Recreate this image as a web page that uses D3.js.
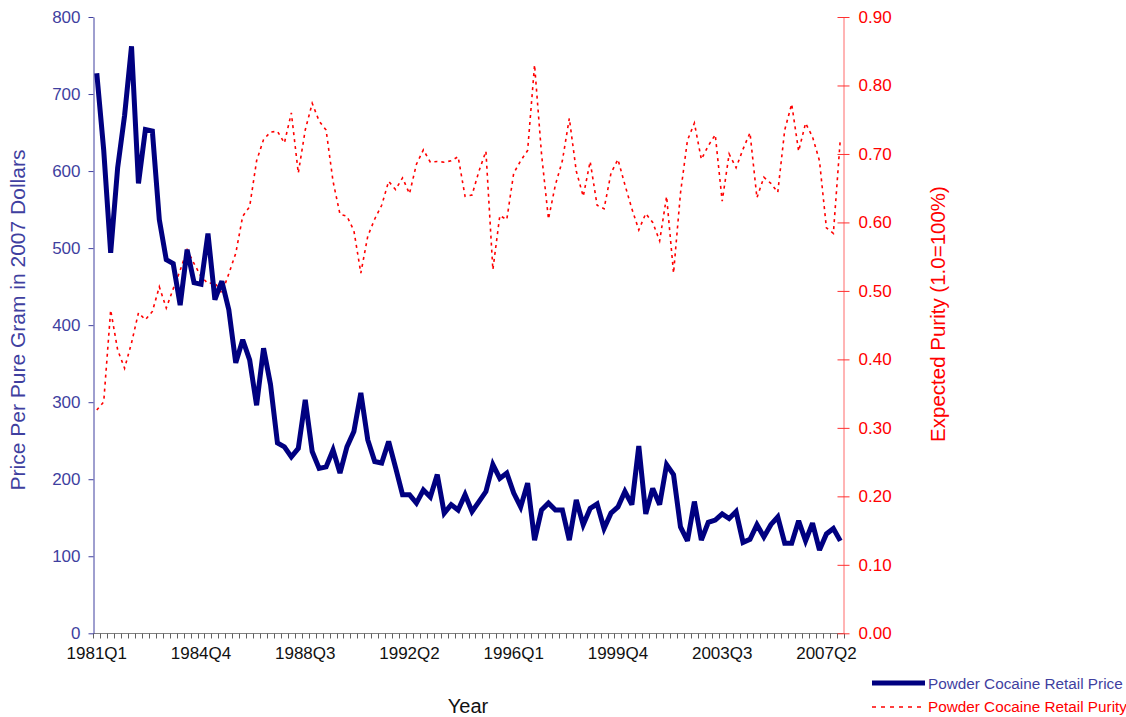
<!DOCTYPE html>
<html>
<head>
<meta charset="utf-8">
<script src="https://cdn.jsdelivr.net/npm/d3@7"></script>
<style>
body{margin:0;background:#fff;}
text{font-family:"Liberation Sans",Arial,sans-serif;}
</style>
</head>
<body>
<div id="vis"></div>
<script>
// quarters 1981Q1 .. 2007Q4
var years = d3.range(1981, 2008);
var quarters = [];
years.forEach(function(y){ for(var q=1;q<=4;q++){ quarters.push(y+"Q"+q); } });

// price per pure gram, 2007 dollars
var price = [727,627,494,604,672,762,584,654,652,537,
  485,480,426,498,455,453,519,433,457,420,
  351,381,355,296,370,323,247,242,229,240,
  303,236,214,216,238,208,242,262,312,251,
  223,221,249,215,180,180,169,186,177,206,
  156,167,160,180,158,171,184,219,201,208,
  182,164,195,121,160,169,160,160,121,173,
  141,162,168,136,156,164,184,167,243,155,
  188,167,219,206,138,120,171,121,144,147,
  155,149,158,118,122,141,125,141,151,117,
  117,146,120,143,108,129,136,120];

// expected purity (1.0 = 100%)
var purity = [0.326,0.338,0.472,0.414,0.387,0.424,0.468,0.458,0.470,0.506,
  0.475,0.503,0.530,0.560,0.540,0.521,0.511,0.512,0.497,0.525,
  0.555,0.609,0.623,0.690,0.721,0.732,0.733,0.716,0.760,0.672,
  0.735,0.774,0.748,0.735,0.660,0.612,0.609,0.588,0.526,0.580,
  0.605,0.625,0.660,0.648,0.665,0.642,0.685,0.706,0.688,0.689,
  0.688,0.690,0.696,0.638,0.640,0.675,0.704,0.531,0.610,0.604,
  0.672,0.690,0.705,0.830,0.700,0.605,0.655,0.690,0.752,0.675,
  0.638,0.689,0.625,0.620,0.672,0.692,0.655,0.620,0.589,0.613,
  0.600,0.573,0.638,0.526,0.643,0.720,0.745,0.692,0.712,0.728,
  0.631,0.700,0.680,0.707,0.731,0.636,0.666,0.657,0.644,0.735,
  0.773,0.704,0.745,0.725,0.690,0.592,0.584,0.722];

var priceTicks = d3.range(0, 801, 100);
var purityTicks = d3.range(0, 10).map(function(d){ return d/10; });
var seriesNames = ["Powder Cocaine Retail Price","Powder Cocaine Retail Purity"];

var blueText = "#3f3f9f";
var svg = d3.select("#vis").append("svg").attr("width",1126).attr("height",717);

// scales
var x = d3.scaleBand().domain(quarters).range([93.3, 843.8]).padding(0);
var cx = function(i){ return x(quarters[i]) + x.bandwidth()/2; };
var yPrice = d3.scaleLinear().domain([0,800]).range([633.3,17]);
var yPurity = d3.scaleLinear().domain([0,0.9]).range([633.3,17]);

// x axis: boundary ticks
var xg = svg.append("g");
xg.append("line").attr("x1",93.3).attr("x2",843.8).attr("y1",633.5).attr("y2",633.5)
  .attr("stroke","#808080").attr("stroke-width",1.2);
xg.selectAll("line.tk").data(quarters.concat(["end"])).enter().append("line")
  .attr("class","tk")
  .attr("x1",function(d,i){ return Math.round(93.3 + i*x.bandwidth())+0.5; })
  .attr("x2",function(d,i){ return Math.round(93.3 + i*x.bandwidth())+0.5; })
  .attr("y1",633.5).attr("y2",638.5).attr("stroke","#606060").attr("stroke-width",1);
var xAxis = d3.axisBottom(x).tickSize(0).tickPadding(0)
  .tickValues(quarters.filter(function(d,i){ return i%15==0; }));
var xa = svg.append("g").attr("transform","translate(0,633.3)").call(xAxis);
xa.select(".domain").remove();
xa.selectAll("text").attr("y",26).attr("dy",null).attr("font-size",17).attr("fill","#111")
  .style("font-family","'Liberation Sans',Arial,sans-serif");

// left axis
var la = svg.append("g").attr("transform","translate(93.5,0)")
  .call(d3.axisLeft(yPrice).tickValues(priceTicks).tickSize(5).tickSizeOuter(0).tickPadding(8));
la.select(".domain").attr("stroke",blueText);
la.selectAll(".tick line").attr("stroke",blueText);
la.selectAll("text").attr("font-size",17).attr("fill",blueText)
  .style("font-family","'Liberation Sans',Arial,sans-serif");

// right axis, ticks cross the line
var ra = svg.append("g").attr("transform","translate(843.5,0)")
  .call(d3.axisRight(yPurity).tickValues(purityTicks).tickSize(6).tickSizeOuter(0).tickPadding(9).tickFormat(d3.format(".2f")));
ra.select(".domain").attr("stroke","#ff6a6a");
ra.selectAll(".tick line").attr("x1",-6).attr("stroke","#ff3030");
ra.selectAll("text").attr("font-size",17).attr("fill","#ff0000")
  .style("font-family","'Liberation Sans',Arial,sans-serif");

// titles
svg.append("text").attr("transform","translate(25,320) rotate(-90)").attr("text-anchor","middle")
  .attr("font-size",21).attr("fill",blueText).text("Price Per Pure Gram in 2007 Dollars");
svg.append("text").attr("transform","translate(945,314) rotate(-90)").attr("text-anchor","middle")
  .attr("font-size",20.5).attr("fill","#ff0000").text("Expected Purity (1.0=100%)");
svg.append("text").attr("x",468).attr("y",713).attr("text-anchor","middle")
  .attr("font-size",20).attr("fill","#111").text("Year");

// lines
var purityLine = d3.line().x(function(d,i){ return cx(i); }).y(function(d){ return yPurity(d); });
var priceLine = d3.line().x(function(d,i){ return cx(i); }).y(function(d){ return yPrice(d); });
svg.append("path").datum(purity).attr("d",purityLine).attr("fill","none")
  .attr("stroke","#ff0000").attr("stroke-width",1.6).attr("stroke-dasharray","3,4");
svg.append("path").datum(price).attr("d",priceLine).attr("fill","none")
  .attr("stroke","#000080").attr("stroke-width",5).attr("stroke-linejoin","miter").attr("stroke-miterlimit",3);

// legend
var lg = svg.append("g");
lg.append("line").attr("x1",872).attr("x2",925).attr("y1",683).attr("y2",683)
  .attr("stroke","#000080").attr("stroke-width",5);
lg.append("text").attr("x",928).attr("y",689).attr("font-size",15.3).attr("fill",blueText).text(seriesNames[0]);
lg.append("line").attr("x1",872).attr("x2",925).attr("y1",707).attr("y2",707)
  .attr("stroke","#ff0000").attr("stroke-width",1.6).attr("stroke-dasharray","4,5");
lg.append("text").attr("x",928).attr("y",712).attr("font-size",15.3).attr("fill","#ff0000").text(seriesNames[1]);
</script>
</body>
</html>
